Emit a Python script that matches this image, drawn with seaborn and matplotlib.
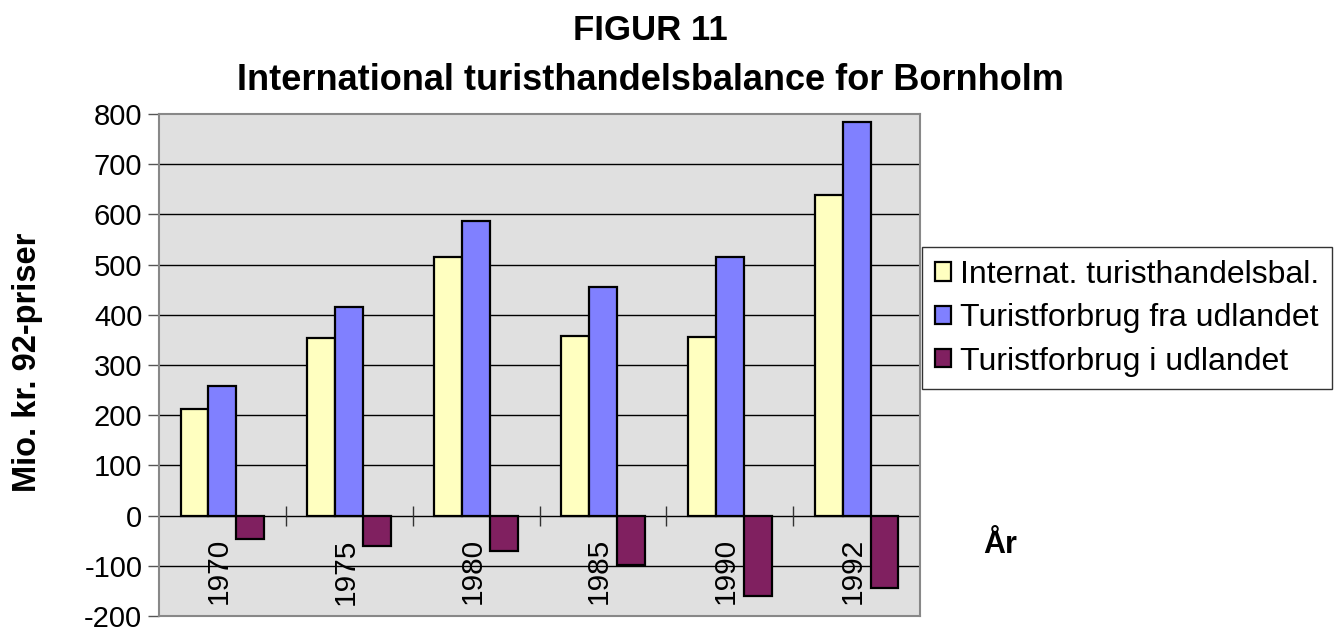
import matplotlib
matplotlib.use("Agg")
import matplotlib.pyplot as plt
import seaborn as sns
import pandas as pd

years = ["1970", "1975", "1980", "1985", "1990", "1992"]
series_names = ["Internat. turisthandelsbal.", "Turistforbrug fra udlandet", "Turistforbrug i udlandet"]
balance = [213, 354, 515, 358, 355, 639]
from_abroad = [259, 415, 587, 455, 516, 785]
in_abroad = [-47, -60, -71, -98, -161, -145]
yticks = list(range(-200, 801, 100))
colors = ["#FFFFC0", "#8080FF", "#802060"]

rows = []
for name, vals in zip(series_names, [balance, from_abroad, in_abroad]):
    for y, v in zip(years, vals):
        rows.append({"year": y, "series": name, "value": v})
df = pd.DataFrame(rows)

sns.set_theme(style="white")
plt.rcParams["font.family"] = ["Liberation Sans", "DejaVu Sans"]
plt.rcParams["text.color"] = "black"
plt.rcParams["ytick.labelcolor"] = "black"

fig = plt.figure(figsize=(13.36, 6.32), dpi=100)
ax = fig.add_axes([159/1336, 1-616/632, (920-159)/1336, (616-114)/632])
ax.set_facecolor("#E0E0E0")

for yv in yticks:
    if yv not in (-200, 800):
        ax.axhline(yv, color="black", lw=1, zorder=0.5)

sns.barplot(data=df, x="year", y="value", hue="series", palette=colors,
            width=0.66, edgecolor="black", linewidth=1.6, saturation=1,
            ax=ax, zorder=2)
handles, labels = ax.get_legend_handles_labels()
if ax.get_legend() is not None:
    ax.get_legend().remove()

ax.set_ylim(-200, 800)
ax.set_xlim(-0.5, len(years) - 0.5)
ax.set_yticks(yticks)
ax.set_yticklabels([str(v) for v in yticks], fontsize=21)
ax.tick_params(axis="y", which="major", direction="out", length=8, width=1, color="#555555", left=True, pad=4)
ax.set_xticks([])
ax.set_xlabel("")
ax.set_ylabel("")
for s in ax.spines.values():
    s.set_color("#888888")
    s.set_linewidth(1.5)

# category boundary ticks across zero line
ax.vlines([i + 0.5 for i in range(len(years) - 1)], -20, 20, color="#333333", lw=1, zorder=3)

for i, y in enumerate(years):
    ax.text(i - 0.03, -45, y, rotation=90, ha="center", va="top", fontsize=21.5, zorder=4)

fig.text(28/1336, 1-362/632, "Mio. kr. 92-priser", rotation=90, ha="center", va="center",
         fontsize=23.5, fontweight="bold")
fig.text(1000/1336, 1-545/632, "År", ha="center", va="center", fontsize=22, fontweight="bold")

fig.text(650/1336, 1-30/632, "FIGUR 11", ha="center", va="center", fontsize=25, fontweight="bold")
fig.text(650/1336, 1-80/632, "International turisthandelsbalance for Bornholm", ha="center", va="center",
         fontsize=26, fontweight="bold")

leg = fig.legend(handles, labels, loc="upper left", bbox_to_anchor=(922/1336, 1-247/632),
                 frameon=True, fancybox=False, edgecolor="black", fontsize=23,
                 handlelength=0.5, handleheight=0.5, handletextpad=0.3, labelspacing=0.42,
                 borderpad=0.4, borderaxespad=0)
leg.get_frame().set_linewidth(1)

fig.savefig("out.png", dpi=100, facecolor="white")
